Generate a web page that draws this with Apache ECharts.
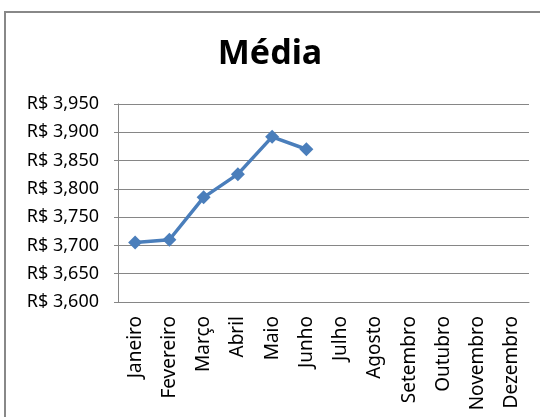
<!DOCTYPE html>
<html><head><meta charset="utf-8">
<script src="https://cdn.jsdelivr.net/npm/echarts@6/dist/echarts.min.js"></script>
<style>html,body{margin:0;padding:0;background:#fff}#c{width:540px;height:417px}</style>
</head><body><div id="c"></div>
<script>
const categories = ['Janeiro','Fevereiro','Março','Abril','Maio','Junho','Julho','Agosto','Setembro','Outubro','Novembro','Dezembro'];
const media = [3.705, 3.710, 3.785, 3.826, 3.892, 3.870, null, null, null, null, null, null];
const yMin = 3.6, yMax = 3.95, yStep = 0.05;
const chart = echarts.init(document.getElementById('c'));
const font = 'Noto Sans, Lato, sans-serif';
chart.setOption({
  animation: false,
  graphic: [{type:'rect', shape:{x:5, y:12, width:600, height:500}, style:{fill:'none', stroke:'#888', lineWidth:2}, z:-1}],
  title: {text:'Média', left:'center', top:32, textStyle:{fontFamily:font, fontSize:34, fontWeight:'bold', color:'#000'}},
  grid: {left:118, right:11, top:104, bottom:115},
  xAxis: {type:'category', data:categories, boundaryGap:true,
    axisLine:{lineStyle:{color:'#868686'}}, axisTick:{alignWithLabel:false, length:5, lineStyle:{color:'#868686'}},
    axisLabel:{rotate:90, interval:0, margin:14, color:'#000', fontFamily:font, fontSize:19}},
  yAxis: {type:'value', min:yMin, max:yMax, interval:yStep,
    axisLine:{show:true, lineStyle:{color:'#868686'}}, axisTick:{show:true, length:4, lineStyle:{color:'#868686'}},
    splitLine:{lineStyle:{color:'#868686'}},
    axisLabel:{margin:19, color:'#000', fontFamily:font, fontSize:18,
      formatter: v => 'R$ ' + v.toFixed(3).replace('.', ',')}},
  series: [{type:'line', data:media, symbol:'diamond', symbolSize:14,
    lineStyle:{color:'#4A7EBB', width:3.5}, itemStyle:{color:'#4A7EBB'}}]
});
</script></body></html>
